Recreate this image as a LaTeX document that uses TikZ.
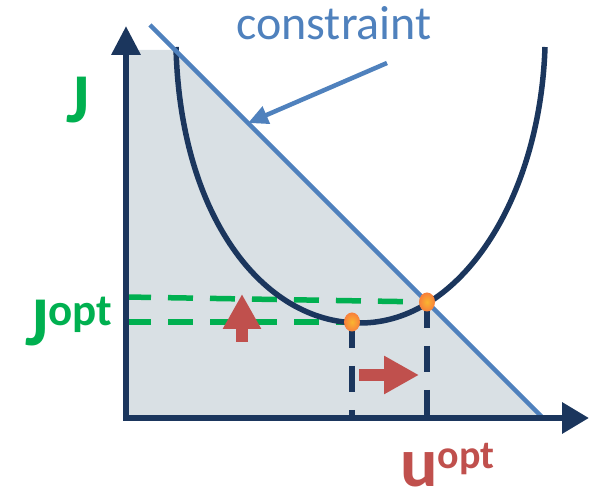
\documentclass[tikz,border=0pt]{standalone}
\usepackage{fontspec}
\setmainfont{Carlito}
\usetikzlibrary{arrows.meta}
\definecolor{navy}{HTML}{1B365D}
\definecolor{cblue}{HTML}{4F81BD}
\definecolor{region}{HTML}{D9E0E4}
\definecolor{jgreen}{HTML}{00B050}
\definecolor{ured}{HTML}{C0504D}
\definecolor{dot}{HTML}{F79646}

\begin{document}
\begin{tikzpicture}[x=1pt,y=-1pt,
  axis/.style={navy,line width=6.5pt,line join=miter},
  cost/.style={navy,line width=5.5pt},
  limit/.style={cblue,line width=4.5pt},
  jline/.style={jgreen,line width=5.5pt,dash pattern=on 25pt off 17pt},
  uline/.style={navy,line width=5.5pt,dash pattern=on 26pt off 18pt},
  movearrow/.style={ured,line width=12pt,-{Triangle[length=35pt,width=36pt]}},
  optdot/.style={inner color=dot!70!yellow,outer color=dot!85!red},
  big/.style={font=\fontsize{70}{70}\selectfont\bfseries,inner sep=0pt}]
\useasboundingbox (0,0) rectangle (590,497);
\coordinate (O) at (126,418);
\coordinate (ytip) at (126,26);
\coordinate (xtip) at (589,418);
\coordinate (c1) at (150,25);
\coordinate (c2) at (543,418);
\coordinate (m) at (352,322);
\coordinate (p) at (427,302);
% feasible region
\fill[region] (126,50) -- (175,50) -- (c2) -- (O) -- cycle;
% J levels and u values
\draw[jline] (126,297) -- (p);
\draw[jline] (126,322) -- (m);
\draw[uline] (m) -- (m |- O);
\draw[uline] (p) -- (p |- O);
% cost curve and constraint
\draw[cost] (176,47) .. controls (180,215) and (262,323) .. (360,323)
  .. controls (460,323) and (540,200) .. (545,47);
\draw[limit] (c1) -- (c2);
\draw[axis,{Triangle[length=29pt,width=28pt]}-{Triangle[length=27pt,width=30pt]}] (ytip) |- (xtip);
\shade[optdot] (m) ellipse[x radius=8pt,y radius=9.5pt];
\shade[optdot] (p) ellipse[x radius=8pt,y radius=9.5pt];
\draw[movearrow] (242,342) -- (242,294);
\draw[movearrow] (359,375) -- (419,375);
% labels
\node[text=cblue,font=\fontsize{48}{48}\selectfont,anchor=base] (lbl) at (334,40) {constraint};
\coordinate (from) at (387,63);
\coordinate (hit) at (248,123);
\draw[limit,-{Triangle[length=20pt,width=18pt]}] (from) -- (hit);
\node[big,text=jgreen,anchor=base] (J) at (78,123) {J};
\node[big,text=jgreen,anchor=base west] (Jopt) at (25,346)
  {J\raisebox{20pt}{\fontsize{45}{45}\selectfont opt}};
\node[big,text=ured,anchor=base west] (uopt) at (400,487)
  {u\raisebox{18pt}{\fontsize{40}{40}\selectfont opt}};
\end{tikzpicture}
\end{document}
